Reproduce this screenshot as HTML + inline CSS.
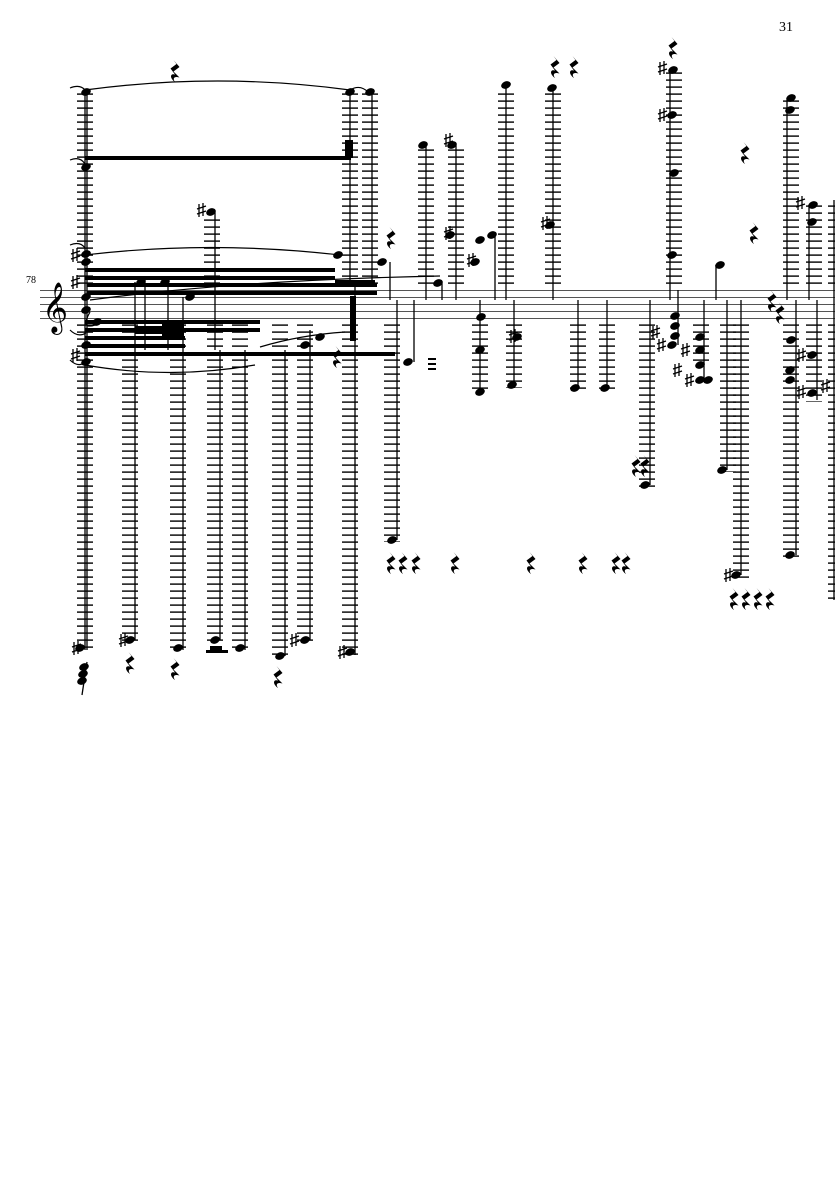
<!DOCTYPE html>
<html><head><meta charset="utf-8"><style>
html,body{margin:0;padding:0;background:#fff;}
svg{display:block}
text{font-family:"Liberation Serif",serif;}
</style></head><body>
<svg width="835" height="1181" viewBox="0 0 835 1181" xmlns="http://www.w3.org/2000/svg">
<defs>
<pattern id="L" patternUnits="userSpaceOnUse" x="0" y="0" width="1000" height="7">
<rect x="0" y="2.4" width="1000" height="1.4" fill="#000"/>
</pattern>
<g id="n"><ellipse cx="0" cy="0" rx="5" ry="3.6" transform="rotate(-22)" fill="#000"/></g>
<g id="r"><path d="M-1.5,-10 L4.5,-3 L-1.5,1.5 L4.5,7.5 C0,6 -3,7.5 0,12 C-6,7.5 -4.5,3 0,4.5 L-4.5,-1.5 L1.5,-6 Z" fill="#000"/></g>
<g id="s"><path d="M-3,-6 V7 M1,-7 V6 M-5,-1 L4,-4 M-5,4 L4,1" stroke="#000" stroke-width="1.3" fill="none"/></g>
</defs>
<text x="779" y="31" font-size="14">31</text>
<text x="26" y="283" font-size="10">78</text>
<!-- staff -->
<g stroke="#555" stroke-width="1">
<line x1="40" y1="290.5" x2="835" y2="290.5"/><line x1="40" y1="297.5" x2="835" y2="297.5"/>
<line x1="40" y1="304.5" x2="835" y2="304.5"/><line x1="40" y1="311.5" x2="835" y2="311.5"/>
<line x1="40" y1="318.5" x2="835" y2="318.5"/>
</g>
<text x="42" y="322" font-size="44">𝄞</text>
<!-- ledger columns -->
<g fill="url(#L)">
<rect x="77" y="88" width="16" height="197"/><rect x="77" y="322" width="16" height="330"/>
<rect x="122" y="322" width="16" height="320"/>
<rect x="170" y="322" width="16" height="330"/>
<rect x="204" y="214" width="16" height="70"/><rect x="207" y="322" width="16" height="320"/>
<rect x="232" y="322" width="16" height="330"/>
<rect x="272" y="322" width="16" height="336"/>
<rect x="297" y="322" width="16" height="320"/>
<rect x="342" y="92" width="16" height="192"/><rect x="342" y="322" width="16" height="334"/>
<rect x="362" y="92" width="16" height="192"/>
<rect x="384" y="322" width="16" height="220"/>
<rect x="418" y="146" width="16" height="138"/>
<rect x="448" y="146" width="16" height="138"/>
<rect x="472" y="322" width="16" height="72"/>
<rect x="498" y="88" width="16" height="196"/>
<rect x="506" y="322" width="16" height="66"/>
<rect x="545" y="88" width="16" height="196"/>
<rect x="570" y="322" width="16" height="68"/>
<rect x="599" y="322" width="16" height="68"/>
<rect x="639" y="322" width="16" height="165"/>
<rect x="666" y="70" width="16" height="214"/>
<rect x="693" y="322" width="16" height="40"/>
<rect x="720" y="322" width="16" height="150"/>
<rect x="733" y="322" width="16" height="256"/>
<rect x="783" y="100" width="16" height="184"/><rect x="783" y="322" width="16" height="236"/>
<rect x="806" y="205" width="16" height="79"/><rect x="806" y="322" width="16" height="80"/>
<rect x="828" y="200" width="10" height="84"/><rect x="828" y="322" width="10" height="280"/>
</g>
<!-- stems -->
<g stroke="#000" stroke-width="1.3">
<line x1="85" y1="90" x2="85" y2="650"/><line x1="87" y1="90" x2="87" y2="650"/>
<line x1="135" y1="282" x2="135" y2="640"/>
<line x1="145" y1="282" x2="145" y2="350"/>
<line x1="168" y1="282" x2="168" y2="350"/>
<line x1="183" y1="297" x2="183" y2="650"/>
<line x1="215" y1="212" x2="215" y2="350"/><line x1="220" y1="350" x2="220" y2="640"/>
<line x1="245" y1="350" x2="245" y2="650"/>
<line x1="285" y1="350" x2="285" y2="656"/>
<line x1="310" y1="330" x2="310" y2="640"/>
<line x1="350" y1="92" x2="350" y2="280"/><line x1="355" y1="280" x2="355" y2="655"/>
<line x1="372" y1="92" x2="372" y2="280"/>
<line x1="390" y1="262" x2="390" y2="300"/>
<line x1="397" y1="300" x2="397" y2="540"/>
<line x1="414" y1="300" x2="414" y2="362"/>
<line x1="426" y1="145" x2="426" y2="300"/>
<line x1="442" y1="283" x2="442" y2="300"/>
<line x1="456" y1="145" x2="456" y2="300"/>
<line x1="480" y1="300" x2="480" y2="392"/>
<line x1="495" y1="235" x2="495" y2="300"/>
<line x1="506" y1="85" x2="506" y2="300"/>
<line x1="514" y1="300" x2="514" y2="385"/>
<line x1="553" y1="88" x2="553" y2="300"/>
<line x1="578" y1="300" x2="578" y2="388"/>
<line x1="607" y1="300" x2="607" y2="388"/>
<line x1="650" y1="300" x2="650" y2="485"/>
<line x1="670" y1="72" x2="670" y2="300"/><line x1="678" y1="290" x2="678" y2="345"/>
<line x1="704" y1="300" x2="704" y2="380"/>
<line x1="716" y1="265" x2="716" y2="300"/>
<line x1="727" y1="300" x2="727" y2="470"/>
<line x1="741" y1="300" x2="741" y2="575"/>
<line x1="787" y1="100" x2="787" y2="300"/><line x1="796" y1="300" x2="796" y2="555"/>
<line x1="809" y1="205" x2="809" y2="300"/><line x1="817" y1="300" x2="817" y2="400"/>
<line x1="834" y1="200" x2="834" y2="600"/>
</g>
<!-- beams -->
<g fill="#000">
<rect x="85" y="156" width="266" height="4"/>
<rect x="345" y="140" width="8" height="18"/>
<rect x="85" y="268" width="250" height="4"/>
<rect x="85" y="276" width="250" height="4"/>
<rect x="87" y="283" width="290" height="4"/>
<rect x="87" y="291" width="290" height="4"/>
<rect x="85" y="320" width="175" height="4"/>
<rect x="85" y="328" width="175" height="4"/>
<rect x="85" y="336" width="100" height="4"/>
<rect x="85" y="344" width="100" height="4"/>
<rect x="85" y="352" width="310" height="4"/>
<rect x="135" y="322" width="33" height="2"/><rect x="135" y="326" width="33" height="2"/><rect x="135" y="332" width="33" height="2"/><rect x="135" y="338" width="33" height="2"/>
<rect x="162" y="324" width="22" height="16"/>
<rect x="335" y="280" width="40" height="3"/>
<rect x="350" y="296" width="6" height="45"/>
<rect x="428" y="358" width="8" height="2"/><rect x="428" y="363" width="8" height="2"/><rect x="428" y="368" width="8" height="2"/>
</g>
<!-- slurs -->
<g stroke="#000" stroke-width="1.2" fill="none">
<path d="M85,90 Q218,72 350,90"/>
<path d="M85,255 Q210,240 340,255"/>
<path d="M85,365 Q170,380 255,365"/>
<path d="M90,300 Q240,280 440,276"/>
<path d="M260,347 Q300,335 345,332"/>
<path d="M70,88 Q80,84 85,90"/><path d="M70,160 Q80,156 85,164"/><path d="M70,245 Q80,241 85,248"/>
<path d="M70,330 Q78,338 86,333"/><path d="M70,360 Q78,368 86,362"/><path d="M90,312 Q80,330 95,325"/>
<path d="M350,90 Q360,84 368,92"/>
</g>
<!-- noteheads -->
<g>
<use href="#n" x="86" y="92"/><use href="#n" x="86" y="167"/><use href="#n" x="86" y="254"/><use href="#n" x="86" y="262"/>
<use href="#n" x="86" y="297"/><use href="#n" x="86" y="310"/><use href="#n" x="86" y="345"/><use href="#n" x="86" y="362"/>
<use href="#n" x="80" y="648"/><use href="#n" x="97" y="322"/>
<use href="#n" x="130" y="640"/><use href="#n" x="141" y="282"/><use href="#n" x="165" y="282"/>
<use href="#n" x="178" y="648"/><use href="#n" x="190" y="297"/>
<use href="#n" x="211" y="212"/><use href="#n" x="215" y="640"/>
<use href="#n" x="240" y="648"/><use href="#n" x="280" y="656"/><use href="#n" x="305" y="640"/>
<use href="#n" x="305" y="345"/><use href="#n" x="320" y="337"/>
<use href="#n" x="350" y="652"/><use href="#n" x="350" y="92"/><use href="#n" x="338" y="255"/>
<use href="#n" x="370" y="92"/><use href="#n" x="382" y="262"/>
<use href="#n" x="392" y="540"/><use href="#n" x="408" y="362"/>
<use href="#n" x="423" y="145"/><use href="#n" x="438" y="283"/>
<use href="#n" x="452" y="145"/><use href="#n" x="450" y="235"/>
<use href="#n" x="480" y="240"/><use href="#n" x="475" y="262"/><use href="#n" x="480" y="392"/><use href="#n" x="480" y="350"/><use href="#n" x="481" y="317"/>
<use href="#n" x="492" y="235"/>
<use href="#n" x="506" y="85"/><use href="#n" x="512" y="385"/><use href="#n" x="517" y="337"/>
<use href="#n" x="552" y="88"/><use href="#n" x="550" y="225"/>
<use href="#n" x="575" y="388"/><use href="#n" x="605" y="388"/><use href="#n" x="645" y="485"/>
<use href="#n" x="673" y="70"/><use href="#n" x="672" y="115"/><use href="#n" x="674" y="173"/><use href="#n" x="672" y="255"/>
<use href="#n" x="675" y="316"/><use href="#n" x="675" y="326"/><use href="#n" x="675" y="336"/><use href="#n" x="672" y="345"/>
<use href="#n" x="700" y="337"/><use href="#n" x="700" y="350"/><use href="#n" x="700" y="365"/><use href="#n" x="700" y="380"/><use href="#n" x="708" y="380"/>
<use href="#n" x="720" y="265"/><use href="#n" x="722" y="470"/><use href="#n" x="736" y="575"/>
<use href="#n" x="791" y="98"/><use href="#n" x="790" y="110"/><use href="#n" x="790" y="555"/>
<use href="#n" x="791" y="340"/><use href="#n" x="790" y="370"/><use href="#n" x="790" y="380"/>
<use href="#n" x="813" y="205"/><use href="#n" x="812" y="222"/><use href="#n" x="812" y="355"/><use href="#n" x="812" y="393"/>
</g>
<!-- sharps -->
<g>
<use href="#s" x="77" y="648"/><use href="#s" x="124" y="640"/><use href="#s" x="295" y="640"/><use href="#s" x="343" y="652"/>
<use href="#s" x="202" y="210"/><use href="#s" x="76" y="255"/><use href="#s" x="76" y="282"/><use href="#s" x="76" y="355"/>
<use href="#s" x="449" y="140"/><use href="#s" x="449" y="233"/><use href="#s" x="472" y="260"/><use href="#s" x="514" y="336"/><use href="#s" x="546" y="223"/>
<use href="#s" x="663" y="68"/><use href="#s" x="663" y="115"/><use href="#s" x="656" y="332"/><use href="#s" x="662" y="345"/><use href="#s" x="686" y="350"/><use href="#s" x="678" y="370"/><use href="#s" x="690" y="380"/>
<use href="#s" x="729" y="575"/><use href="#s" x="801" y="203"/><use href="#s" x="802" y="355"/><use href="#s" x="802" y="392"/><use href="#s" x="826" y="386"/>
</g>
<!-- rests -->
<g>
<use href="#r" x="175" y="70"/><use href="#r" x="391" y="237"/><use href="#r" x="555" y="66"/><use href="#r" x="574" y="66"/>
<use href="#r" x="673" y="47"/><use href="#r" x="745" y="152"/><use href="#r" x="754" y="232"/><use href="#r" x="772" y="300"/><use href="#r" x="780" y="312"/>
<use href="#r" x="337" y="356"/><use href="#r" x="130" y="662"/><use href="#r" x="175" y="668"/><use href="#r" x="278" y="676"/>
<use href="#r" x="391" y="562"/><use href="#r" x="403" y="562"/><use href="#r" x="416" y="562"/><use href="#r" x="455" y="562"/>
<use href="#r" x="531" y="562"/><use href="#r" x="583" y="562"/><use href="#r" x="616" y="562"/><use href="#r" x="626" y="562"/>
<use href="#r" x="734" y="598"/><use href="#r" x="746" y="598"/><use href="#r" x="758" y="598"/><use href="#r" x="770" y="598"/>
<use href="#r" x="636" y="465"/><use href="#r" x="645" y="465"/>
</g>
<path d="M87,662 L82,695" stroke="#000" stroke-width="1.3"/>
<g><use href="#n" x="84" y="667"/><use href="#n" x="83" y="674"/><use href="#n" x="82" y="681"/></g>
<rect x="206" y="650" width="22" height="3" fill="#000"/><rect x="210" y="646" width="12" height="4" fill="#000"/>
</svg>
</body></html>
